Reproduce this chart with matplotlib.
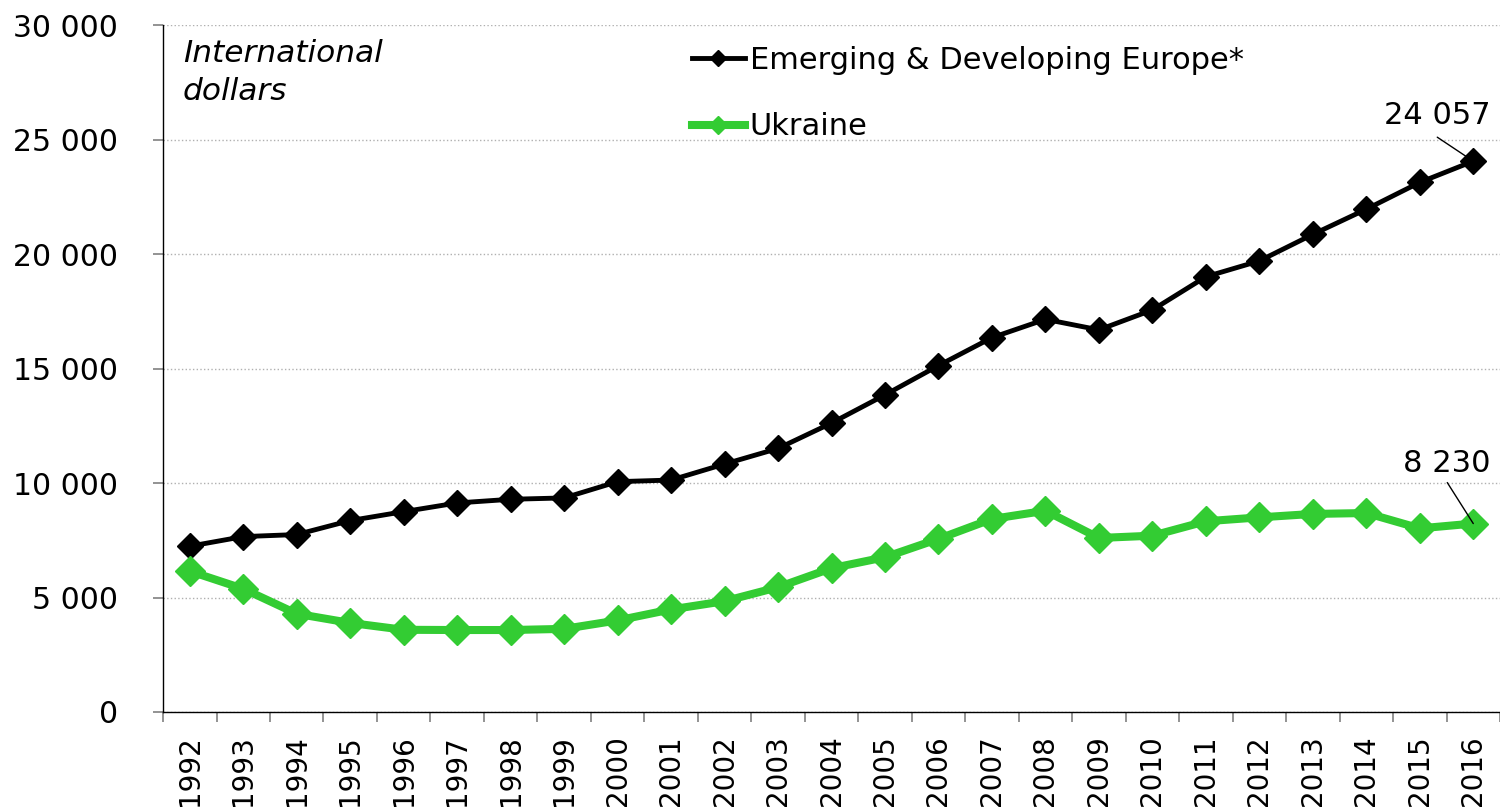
import matplotlib
matplotlib.use('Agg')
import matplotlib.pyplot as plt
from matplotlib.ticker import FuncFormatter, FixedLocator

years = [str(y) for y in range(1992, 2017)]
europe = [7240, 7660, 7750, 8360, 8750, 9130, 9290, 9350, 10060, 10130,
          10830, 11510, 12620, 13850, 15130, 16350, 17150, 16690, 17560,
          19010, 19700, 20860, 21960, 23130, 24057]
ukraine = [6150, 5380, 4290, 3890, 3590, 3580, 3580, 3630, 4000, 4480,
           4840, 5450, 6280, 6760, 7560, 8430, 8790, 7600, 7700, 8330,
           8500, 8650, 8690, 8020, 8230]

plt.rcParams['font.family'] = ['DejaVu Sans']

fig = plt.figure(figsize=(15, 8.1), dpi=100)
ax = fig.add_axes([0.1087, 0.121, 0.8913, 0.848])

x = list(range(len(years)))
ax.plot(x, europe, color='black', lw=3.5, marker='D', ms=13.5,
        label='Emerging & Developing Europe*', zorder=3)
ax.plot(x, ukraine, color='#33cc33', lw=5.8, marker='D', ms=15.5,
        label='Ukraine', zorder=3)

ax.set_xlim(-0.5, len(years) - 0.5)
ax.set_ylim(0, 30000)
ax.set_yticks(range(0, 30001, 5000))
ax.yaxis.set_major_formatter(FuncFormatter(lambda v, p: f'{v:,.0f}'.replace(',', ' ')))
ax.grid(axis='y', color='#b0b0b0', ls=':', lw=1)
ax.set_axisbelow(True)

ax.set_xticks(x)
ax.set_xticklabels(years, rotation=90)
ax.xaxis.set_minor_locator(FixedLocator([i - 0.5 for i in range(len(years) + 1)]))
ax.tick_params(axis='x', which='major', length=0, pad=17, labelsize=20)
ax.tick_params(axis='x', which='minor', length=7.5, color='#808080', width=1.2)
ax.tick_params(axis='y', length=7.5, color='#808080', width=1.2, pad=25, labelsize=21.5)

for s in ['top', 'right']:
    ax.spines[s].set_visible(False)
for s in ['left', 'bottom']:
    ax.spines[s].set_linewidth(1)

ax.text(183, 810 - 39, 'International\ndollars', transform=None, fontsize=22.5,
        style='italic', va='top', ha='left', linespacing=1.4)

ax.legend(loc='upper left', bbox_to_anchor=(0.461, 0.943), bbox_transform=fig.transFigure,
          frameon=False, fontsize=22, handlelength=1.75, handletextpad=0.15,
          labelspacing=1.22, borderpad=0, borderaxespad=0, numpoints=1, markerscale=0.6)

# value labels with leader lines
ax.annotate('24 057', xy=(24, europe[-1]), xytext=(-36, 37), textcoords='offset pixels',
            ha='center', va='baseline', fontsize=22)
ax.annotate('', xy=(24, europe[-1]), xytext=(-36, 24), textcoords='offset pixels',
            arrowprops=dict(arrowstyle='-', color='black', lw=1, shrinkA=0, shrinkB=5))
ax.annotate('8 230', xy=(24, ukraine[-1]), xytext=(-27, 52), textcoords='offset pixels',
            ha='center', va='baseline', fontsize=22)
ax.annotate('', xy=(24, ukraine[-1]), xytext=(-26, 41), textcoords='offset pixels',
            arrowprops=dict(arrowstyle='-', color='black', lw=1, shrinkA=0, shrinkB=0))

fig.savefig('out.png', dpi=100)
